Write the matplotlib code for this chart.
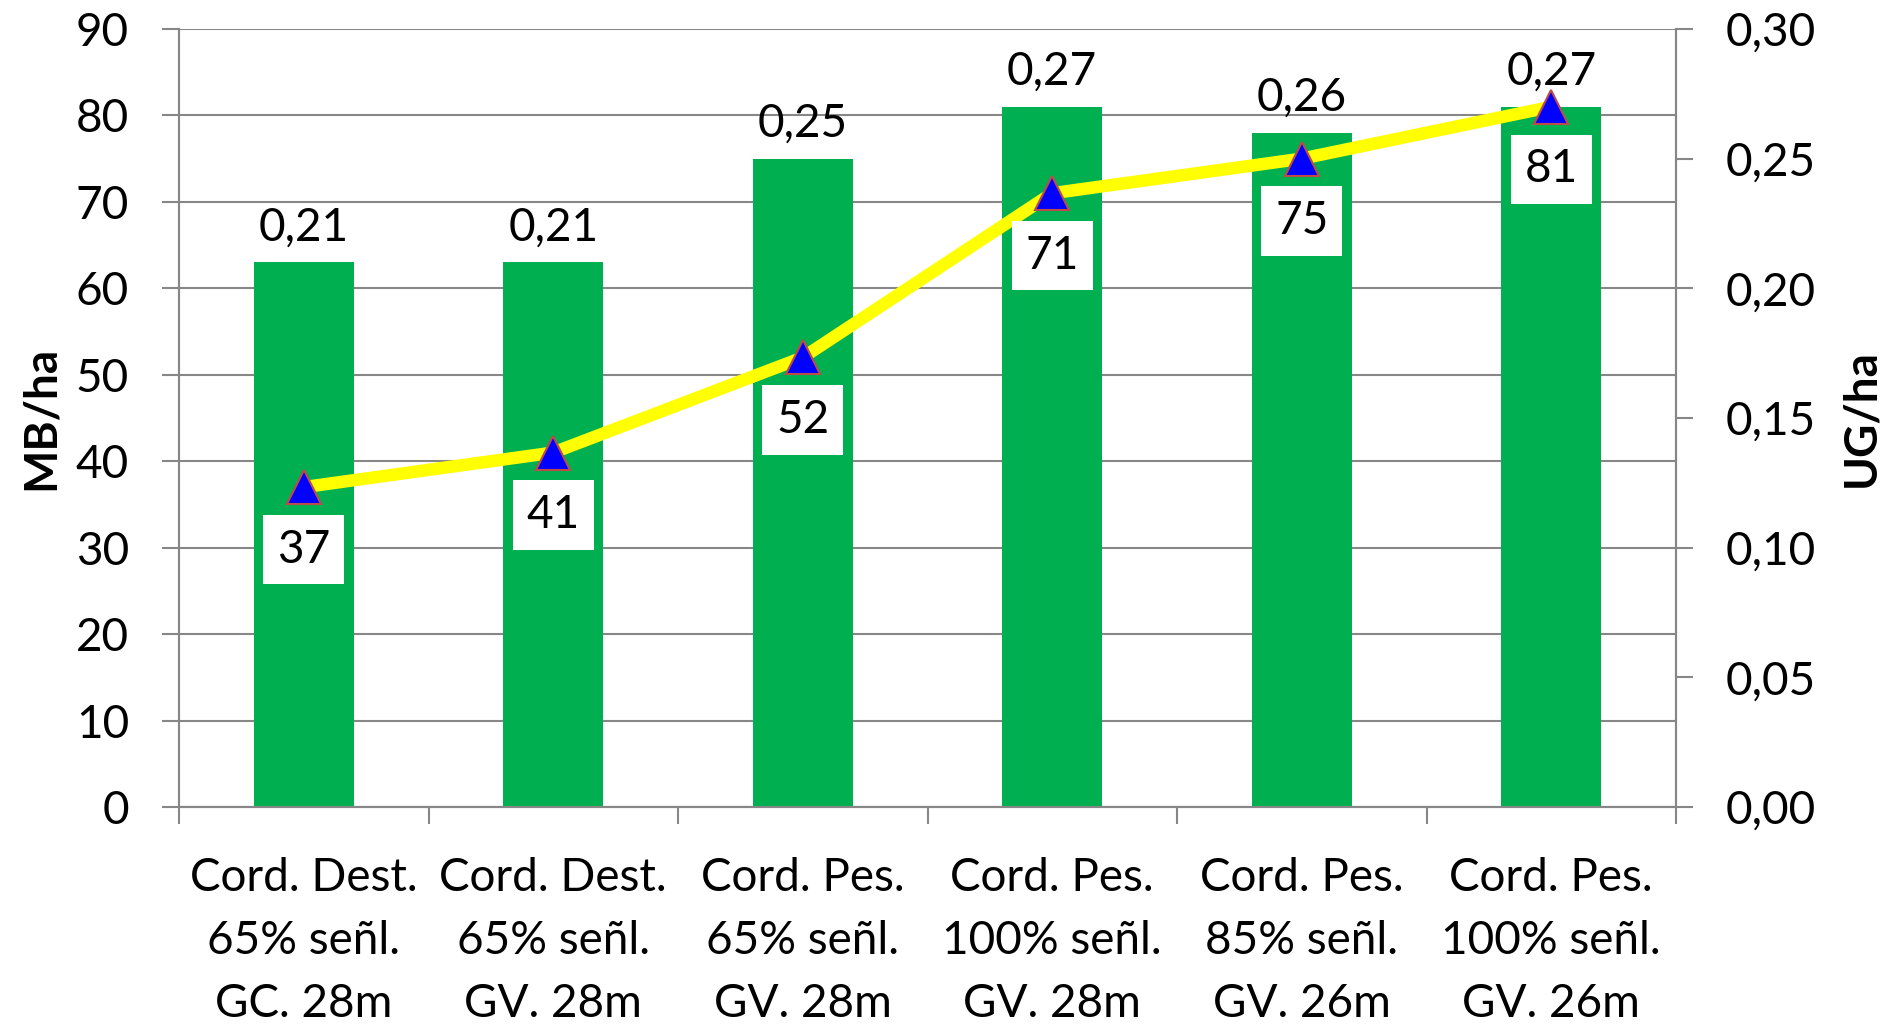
import matplotlib.pyplot as plt
from matplotlib.ticker import FixedLocator, FuncFormatter

# data
categories = ['Cord. Dest.\n65% señl.\nGC. 28m', 'Cord. Dest.\n65% señl.\nGV. 28m',
              'Cord. Pes.\n65% señl.\nGV. 28m', 'Cord. Pes.\n100% señl.\nGV. 28m',
              'Cord. Pes.\n85% señl.\nGV. 26m', 'Cord. Pes.\n100% señl.\nGV. 26m']
ug_ha = [0.21, 0.21, 0.25, 0.27, 0.26, 0.27]   # bars, right axis
mb_ha = [37, 41, 52, 71, 75, 81]               # line, left axis

plt.rcParams['font.family'] = ['Lato', 'DejaVu Sans']
FS = 33
GRID = '#878787'

fig = plt.figure(figsize=(19.01, 10.26), dpi=100)
ax = fig.add_axes([179 / 1901, 1 - 807 / 1026, 1497 / 1901, 778 / 1026])
ax2 = ax.twinx()   # bars (UG/ha)
ax3 = ax.twinx()   # line (MB/ha), drawn on top

x = list(range(len(categories)))

# left axis: grid + ticks
ax.set_ylim(0, 90)
ax.set_xlim(-0.5, len(categories) - 0.5)
ax.set_yticks(range(0, 91, 10))
ax.yaxis.grid(True, color=GRID, lw=1.5)
ax.set_axisbelow(True)
ax.tick_params(axis='y', length=12, width=1.5, color=GRID, pad=24, labelsize=FS)
ax.set_xticks(x)
ax.set_xticklabels(categories, fontsize=FS, linespacing=1.62)
ax.tick_params(axis='x', which='major', length=0, pad=36)
ax.xaxis.set_minor_locator(FixedLocator([i - 0.5 for i in range(len(categories) + 1)]))
ax.tick_params(axis='x', which='minor', length=12, width=1.5, color=GRID)
for s in ax.spines.values():
    s.set_color(GRID)
    s.set_linewidth(1.5)
ax.spines['top'].set_visible(False)
ax.set_ylabel('MB/ha', fontsize=FS, fontweight='bold')
ax.yaxis.set_label_coords(-0.078, 0.5)

# bars on right axis
bars = ax2.bar(x, ug_ha, width=0.4, color='#00B050', zorder=2)
ax2.set_ylim(0, 0.30)
ax2.set_yticks([0, 0.05, 0.10, 0.15, 0.20, 0.25, 0.30])
ax2.yaxis.set_major_formatter(FuncFormatter(lambda v, p: f'{v:.2f}'.replace('.', ',')))
ax2.tick_params(axis='y', length=12, width=1.5, color=GRID, pad=24, labelsize=FS)
for s in ax2.spines.values():
    s.set_color(GRID)
    s.set_linewidth(1.5)
ax2.spines['top'].set_visible(False)
ax2.bar_label(bars, labels=[f'{v:.2f}'.replace('.', ',') for v in ug_ha],
              padding=10, fontsize=FS)
ax2.set_ylabel('UG/ha', fontsize=FS, fontweight='bold', rotation=90)
ax2.yaxis.set_label_coords(1.110, 0.5)

# line on third axis (left scale)
ax3.set_ylim(0, 90)
ax3.axis('off')
ax3.plot(x, mb_ha, color='#FFFF00', lw=9, marker='^', markersize=24,
         markerfacecolor='#0000FF', markeredgecolor='#BE4B48', markeredgewidth=1.5)
for xi, v in zip(x, mb_ha):
    ax3.annotate(str(v), (xi, v), xytext=(0, -45), textcoords='offset points',
                 ha='center', va='center', fontsize=FS,
                 bbox=dict(boxstyle='square,pad=0.3', fc='white', ec='none'))

fig.savefig('out.png', dpi=100)
